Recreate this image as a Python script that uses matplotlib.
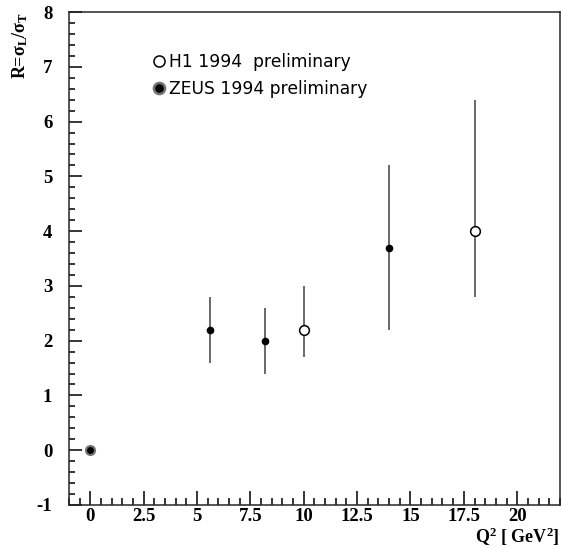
import matplotlib.pyplot as plt
from matplotlib.ticker import MultipleLocator
from matplotlib.lines import Line2D

plt.rcParams['mathtext.fontset'] = 'custom'
plt.rcParams['mathtext.rm'] = 'Liberation Serif:bold'
plt.rcParams['mathtext.it'] = 'Liberation Serif:bold'
plt.rcParams['mathtext.bf'] = 'Liberation Serif:bold'
plt.rcParams['axes.unicode_minus'] = False

# ZEUS 1994 preliminary
zeus_q2 = [5.6, 8.2, 14.0]
zeus_r = [2.2, 2.0, 3.7]
zeus_lo = [1.6, 1.4, 2.2]
zeus_hi = [2.8, 2.6, 5.2]

# H1 1994 preliminary
h1_q2 = [10.0, 18.0]
h1_r = [2.2, 4.0]
h1_lo = [1.7, 2.8]
h1_hi = [3.0, 6.4]

# point at Q2 = 0
zero_q2 = [0.0]
zero_r = [0.0]

x_ticks = [0, 2.5, 5, 7.5, 10, 12.5, 15, 17.5, 20]
x_labels = ['0', '2.5', '5', '7.5', '10', '12.5', '15', '17.5', '20']
y_ticks = [-1, 0, 1, 2, 3, 4, 5, 6, 7, 8]

fig = plt.figure(figsize=(5.61, 5.48), dpi=100)
ax = fig.add_axes([0.123, 0.0785, 0.875, 0.8995])

ecol = '0.25'
zerr = [[r - l for r, l in zip(zeus_r, zeus_lo)], [h - r for r, h in zip(zeus_r, zeus_hi)]]
herr = [[r - l for r, l in zip(h1_r, h1_lo)], [h - r for r, h in zip(h1_r, h1_hi)]]
ax.errorbar(zeus_q2, zeus_r, yerr=zerr, fmt='o', color='black', ms=4.5,
            ecolor=ecol, elinewidth=1.1, capsize=0)
ax.errorbar(h1_q2, h1_r, yerr=herr, fmt='o', mfc='white', mec='black', ms=7,
            mew=1.1, ecolor=ecol, elinewidth=1.1, capsize=0, zorder=3)
ax.plot(zero_q2, zero_r, 'o', mfc='black', mec='0.45', ms=6.5, mew=1.5)

ax.set_xlim(-1, 22)
ax.set_ylim(-1, 8)
ax.set_xticks(x_ticks)
ax.set_xticklabels(x_labels)
ax.set_yticks(y_ticks)
ax.xaxis.set_minor_locator(MultipleLocator(0.5))
ax.yaxis.set_minor_locator(MultipleLocator(0.2))
ax.tick_params(which='both', direction='in', top=False, right=False, width=1.1)
ax.tick_params(which='major', axis='x', length=10, pad=2)
ax.tick_params(which='minor', axis='x', length=5)
ax.tick_params(which='major', axis='y', length=9, pad=12)
ax.tick_params(which='minor', axis='y', length=4.5)
for lab in ax.get_xticklabels() + ax.get_yticklabels():
    lab.set_family('Liberation Serif')
    lab.set_fontweight('bold')
    lab.set_fontsize(13.5)
for s in ax.spines.values():
    s.set_linewidth(1.1)
    s.set_color('0.15')

fig.text(0.998, 0.0, r'Q$^2$ [ GeV$^2$]', ha='right', va='bottom',
         family='Liberation Serif', fontweight='bold', fontsize=13)
fig.text(0.018, 0.978, r'R=$\sigma_L/\sigma_T$', rotation=90, ha='left', va='top',
         family='Liberation Serif', fontweight='bold', fontsize=13)

handles = [
    Line2D([], [], ls='none', marker='o', mfc='white', mec='black', ms=8, mew=1.1),
    Line2D([], [], ls='none', marker='o', mfc='black', mec='0.45', ms=8, mew=1.8),
]
ax.legend(handles, ['H1 1994  preliminary', 'ZEUS 1994 preliminary'], loc='upper left',
          bbox_to_anchor=(0.135, 0.948), frameon=False, handletextpad=0.05, handlelength=1.0,
          labelspacing=0.5, prop={'family': 'DejaVu Sans', 'size': 12.3})

fig.savefig('out.png', dpi=100)
